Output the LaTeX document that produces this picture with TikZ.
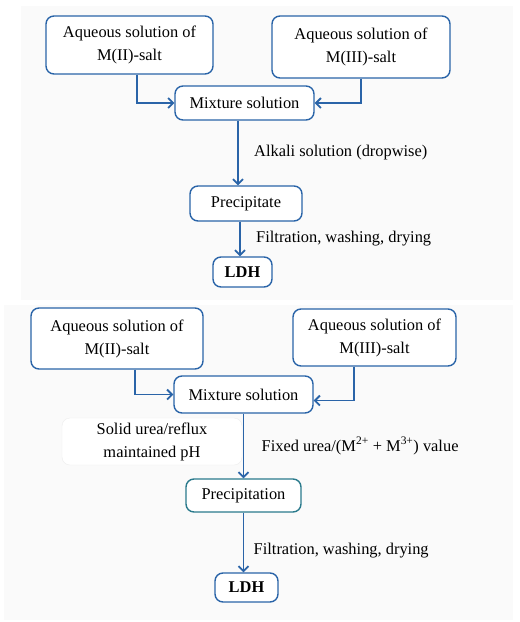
\documentclass[tikz,border=0pt]{standalone}
\usepackage{fontspec}
\setmainfont{Liberation Serif}
\usetikzlibrary{arrows.meta, positioning}
\definecolor{flowblue}{HTML}{2A64A8}
\definecolor{flowteal}{HTML}{2A7A8C}
\definecolor{panelgray}{HTML}{FAFAFA}

\begin{document}
\begin{tikzpicture}[x=1pt, y=-1pt, >={Straight Barb[length=5pt, width=10pt]},
  font=\fontsize{16.4}{23}\selectfont,
  box/.style={draw=flowblue, line width=1.4pt, rounded corners=8pt, fill=white, align=center, inner sep=0pt},
  flow/.style={->, draw=flowblue, line width=1.8pt}]
  \useasboundingbox (0,0) rectangle (520,622);
  % panels
  \fill[panelgray] (21,6) rectangle (513,300);
  \fill[panelgray] (4,305) rectangle (513,620);

  % coprecipitation route
  \node (aqA) [box, minimum width=167pt, minimum height=58pt] at (129.5,45) {Aqueous solution of\\M(II)-salt};
  \node (aqB) [box, minimum width=178pt, minimum height=62pt] at (361,47) {Aqueous solution of\\M(III)-salt};
  \node (mixA) [box, minimum width=139pt, minimum height=34pt] at (244.5,103) {Mixture solution};
  \node (preA) [box, minimum width=112pt, minimum height=35pt] at (246,203.5) {Precipitate};
  \node (ldhA) [box, minimum width=59pt, minimum height=30pt] at (242.5,272) {\bfseries LDH};
  \draw[flow] ([xshift=7.5pt]aqA.south) |- (mixA.west);
  \draw[flow] (aqB.south) |- (mixA.east);
  \draw[flow] ([xshift=-6.5pt]mixA.south) -- node[right=12pt] {Alkali solution (dropwise)} ([xshift=-6.5pt]mixA.south |- preA.north);
  \draw[flow] ([xshift=-6pt]preA.south) -- node[right=12pt] {Filtration, washing, drying} ([xshift=-6pt]preA.south |- ldhA.north);

  % urea hydrolysis route
  \node (aqC) [box, minimum width=172pt, minimum height=61pt] at (117,338.5) {Aqueous solution of\\M(II)-salt};
  \node (aqD) [box, minimum width=163pt, minimum height=57pt] at (374.5,337.5) {Aqueous solution of\\M(III)-salt};
  \node (mixB) [box, minimum width=139pt, minimum height=37pt] at (243.5,394.5) {Mixture solution};
  \node (preB) [box, draw=flowteal, minimum width=115pt, minimum height=33pt] at (243.5,495.5) {Precipitation};
  \node (ldhB) [box, minimum width=63pt, minimum height=29pt] at (246.5,587.5) {\bfseries LDH};
  \node (urea) [draw=black!7, fill=white, rounded corners=8pt, align=center, minimum width=180pt, minimum height=47pt] at (152,441.5) {Solid urea/reflux\\maintained pH};
  \draw[flow] ([xshift=18pt]aqC.south) |- (mixB.west);
  \draw[flow] ([xshift=-20.5pt]aqD.south) |- ([yshift=-6pt]mixB.east);
  \draw[flow] (mixB.south) -- node[right=14pt] {Fixed urea/(M\textsuperscript{2+} + M\textsuperscript{3+}) value} (preB.north);
  \draw[flow] (preB.south) -- node[right=6pt, yshift=-8pt] {Filtration, washing, drying} (preB.south |- ldhB.north);
\end{tikzpicture}
\end{document}
